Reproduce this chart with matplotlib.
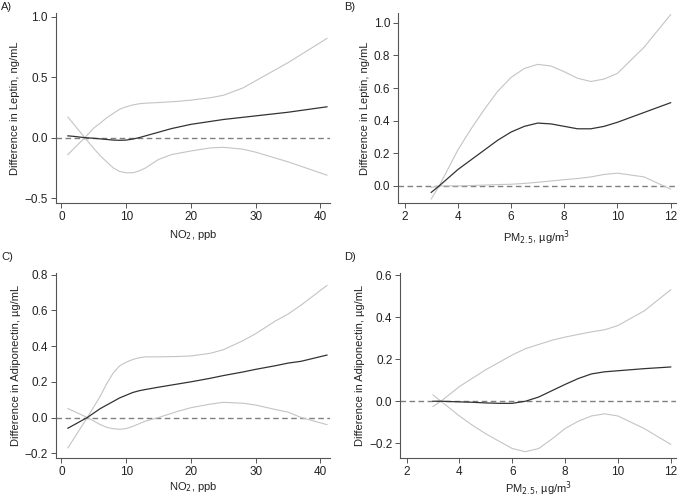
import matplotlib
matplotlib.use("Agg")
import matplotlib.pyplot as plt

plt.rcParams['font.family'] = ['Liberation Sans', 'DejaVu Sans']

# Panel A: Leptin vs NO2
a_x = [1, 2, 3.6, 5, 6, 7, 8, 9, 10, 11, 12, 13, 15, 17, 20, 25, 30, 35, 41]
a_c = [0.015, 0.01, 0.0, -0.005, -0.01, -0.015, -0.02, -0.022, -0.02, -0.012, 0.0, 0.015, 0.045, 0.075, 0.11, 0.15, 0.18, 0.21, 0.255]
a_x_u = [1, 3.6, 5, 6, 7, 8, 9, 10, 11, 12, 13, 15, 18, 20, 23, 25, 28, 30, 33, 35, 38, 41]
a_u = [-0.14, 0.0, 0.08, 0.12, 0.165, 0.2, 0.235, 0.255, 0.27, 0.28, 0.285, 0.29, 0.3, 0.31, 0.33, 0.35, 0.41, 0.47, 0.56, 0.62, 0.72, 0.82]
a_x_l = [1, 3.6, 5, 6, 7, 8, 9, 10, 11, 12, 13, 15, 17, 20, 23, 25, 28, 30, 35, 41]
a_l = [0.17, 0.0, -0.09, -0.15, -0.2, -0.25, -0.28, -0.29, -0.29, -0.275, -0.25, -0.18, -0.14, -0.11, -0.085, -0.08, -0.095, -0.12, -0.2, -0.31]

# Panel B: Leptin vs PM2.5
b_x = [3, 3.3, 4, 4.5, 5, 5.5, 6, 6.5, 7, 7.5, 8, 8.5, 9, 9.5, 10, 11, 12]
b_c = [-0.04, 0.0, 0.1, 0.16, 0.22, 0.28, 0.33, 0.365, 0.385, 0.38, 0.365, 0.35, 0.35, 0.365, 0.39, 0.45, 0.51]
b_u = [-0.08, 0.0, 0.22, 0.35, 0.47, 0.58, 0.665, 0.72, 0.745, 0.735, 0.7, 0.66, 0.64, 0.655, 0.69, 0.85, 1.05]
b_l = [-0.01, 0.0, 0.0, 0.002, 0.005, 0.008, 0.01, 0.015, 0.022, 0.03, 0.038, 0.045, 0.055, 0.07, 0.078, 0.055, -0.02]

# Panel C: Adiponectin vs NO2
c_x = [1, 4, 5, 6, 7, 8, 9, 10, 11, 12, 13, 15, 18, 20, 23, 25, 28, 30, 33, 35, 37, 41]
c_c = [-0.06, 0.0, 0.025, 0.05, 0.07, 0.09, 0.11, 0.125, 0.14, 0.15, 0.157, 0.17, 0.188, 0.2, 0.22, 0.235, 0.255, 0.27, 0.29, 0.305, 0.315, 0.35]
c_u = [-0.17, 0.0, 0.06, 0.12, 0.19, 0.25, 0.29, 0.31, 0.325, 0.335, 0.34, 0.34, 0.342, 0.345, 0.36, 0.38, 0.43, 0.47, 0.54, 0.58, 0.63, 0.74]
c_l = [0.05, 0.0, -0.02, -0.04, -0.055, -0.063, -0.066, -0.062, -0.05, -0.035, -0.02, 0.0, 0.035, 0.055, 0.075, 0.085, 0.08, 0.07, 0.045, 0.03, 0.0, -0.04]

# Panel D: Adiponectin vs PM2.5
d_x = [3, 3.3, 4, 4.5, 5, 5.5, 6, 6.5, 7, 7.5, 8, 8.5, 9, 9.5, 10, 11, 12]
d_c = [0.0, 0.0, -0.003, -0.005, -0.008, -0.01, -0.01, 0.0, 0.02, 0.05, 0.08, 0.108, 0.13, 0.14, 0.145, 0.155, 0.163]
d_u = [-0.025, 0.0, 0.07, 0.11, 0.15, 0.185, 0.22, 0.25, 0.27, 0.29, 0.305, 0.318, 0.33, 0.34, 0.36, 0.43, 0.53]
d_l = [0.03, 0.0, -0.07, -0.115, -0.155, -0.19, -0.225, -0.24, -0.225, -0.18, -0.13, -0.095, -0.07, -0.06, -0.07, -0.13, -0.205]

no2_ticks = [0, 10, 20, 30, 40]
pm_ticks = [2, 4, 6, 8, 10, 12]

fig = plt.figure(figsize=(6.78, 5.0), dpi=100)

panels = [
    dict(rect=[0.082, 0.594, 0.405, 0.380], lab="A)", labpos=(0.002, 0.985),
         x=a_x, c=a_c, xu=a_x_u, u=a_u, xl=a_x_l, l=a_l,
         xlim=(-0.9, 41.5), ylim=(-0.54, 1.03), yt=[-0.5, 0.0, 0.5, 1.0],
         xt=no2_ticks, xlabel="NO$_2$, ppb", ylabel="Difference in Leptin, ng/mL", lp=4),
    dict(rect=[0.587, 0.594, 0.410, 0.380], lab="B)", labpos=(0.507, 0.985),
         x=b_x, c=b_c, xu=b_x, u=b_u, xl=b_x, l=b_l,
         xlim=(1.75, 12.2), ylim=(-0.105, 1.06), yt=[0.0, 0.2, 0.4, 0.6, 0.8, 1.0],
         xt=pm_ticks, xlabel="PM$_{2.5}$, µg/m$^3$", ylabel="Difference in Leptin, ng/mL", lp=4),
    dict(rect=[0.082, 0.084, 0.405, 0.370], lab="C)", labpos=(0.002, 0.485),
         x=c_x, c=c_c, xu=c_x, u=c_u, xl=c_x, l=c_l,
         xlim=(-0.9, 41.5), ylim=(-0.227, 0.81), yt=[-0.2, 0.0, 0.2, 0.4, 0.6, 0.8],
         xt=no2_ticks, xlabel="NO$_2$, ppb", ylabel="Difference in Adiponectin, µg/mL", lp=2),
    dict(rect=[0.590, 0.084, 0.407, 0.370], lab="D)", labpos=(0.507, 0.485),
         x=d_x, c=d_c, xu=d_x, u=d_u, xl=d_x, l=d_l,
         xlim=(1.75, 12.2), ylim=(-0.27, 0.61), yt=[-0.2, 0.0, 0.2, 0.4, 0.6],
         xt=pm_ticks, xlabel="PM$_{2.5}$, µg/m$^3$", ylabel="Difference in Adiponectin, µg/mL", lp=1),
]

for p in panels:
    ax = fig.add_axes(p["rect"])
    ax.axhline(0, color="#808080", lw=1.0, ls=(0, (4, 2.5)), zorder=1)
    ax.plot(p["xu"], p["u"], color="#c4c4c4", lw=0.8, zorder=2)
    ax.plot(p["xl"], p["l"], color="#c4c4c4", lw=0.8, zorder=2)
    ax.plot(p["x"], p["c"], color="#333333", lw=0.9, zorder=3)
    ax.set_xlim(*p["xlim"])
    ax.set_ylim(*p["ylim"])
    ax.set_xticks(p["xt"])
    ax.set_yticks(p["yt"])
    ax.set_yticklabels([("−%.1f" % abs(v)) if v < 0 else "%.1f" % v for v in p["yt"]])
    for s in ["top", "right"]:
        ax.spines[s].set_visible(False)
    for s in ["left", "bottom"]:
        ax.spines[s].set_color("#555555")
        ax.spines[s].set_linewidth(0.8)
    ax.tick_params(axis="both", labelsize=8.5, length=3.5, width=0.7, color="#555555",
                   labelcolor="#222222", pad=2)
    ax.set_xlabel(p["xlabel"], fontsize=8, color="#222222", labelpad=p["lp"])
    ax.set_ylabel(p["ylabel"], fontsize=8, color="#222222", labelpad=3)
    fig.text(p["labpos"][0], p["labpos"][1], p["lab"], fontsize=8, color="#222222",
             ha="left", va="center")

fig.savefig("out.png", dpi=100)
